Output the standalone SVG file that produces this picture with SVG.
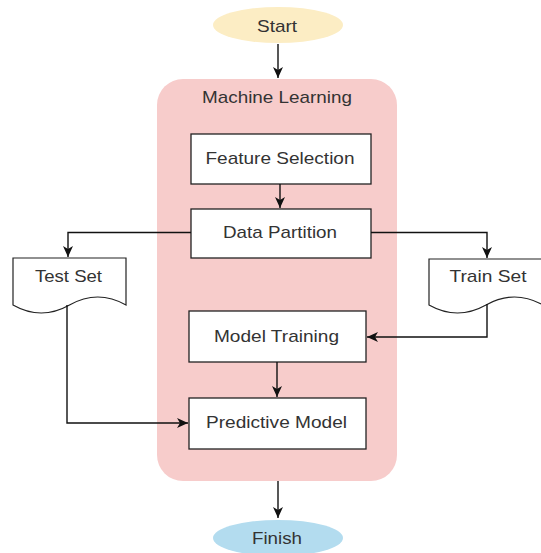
<svg xmlns="http://www.w3.org/2000/svg" width="541" height="553" viewBox="0 0 541 553">
  <style>
    .lbl { font-family: "Liberation Sans", Arial, sans-serif; font-size: 17px; fill: #333333; text-anchor: middle; }
    .box { fill: #ffffff; stroke: #222222; stroke-width: 1.3; }
    .doc { fill: #ffffff; stroke: #222222; stroke-width: 1.2; }
    .edge { fill: none; stroke: #111111; stroke-width: 1.4; }
  </style>
  <defs>
    <marker id="arrow" viewBox="0 0 12 10" refX="11" refY="5" markerWidth="12" markerHeight="10" markerUnits="userSpaceOnUse" orient="auto">
      <path d="M0,0 L11,5 L0,10 L3,5 Z" fill="#111111"/>
    </marker>
  </defs>

  <rect width="541" height="553" fill="#ffffff"/>

  <!-- container for the learning steps -->
  <g id="machine-learning">
    <rect x="157" y="79" width="240" height="402" rx="26" ry="26" fill="#f7cccb"/>
    <text class="lbl" x="277" y="103" textLength="150" lengthAdjust="spacingAndGlyphs">Machine Learning</text>
  </g>

  <g id="start">
    <ellipse cx="278" cy="25" rx="65" ry="18" fill="#fcedc4"/>
    <text class="lbl" x="277" y="32" textLength="40" lengthAdjust="spacingAndGlyphs">Start</text>
  </g>

  <g id="feature-selection">
    <rect class="box" x="191" y="134" width="180" height="50"/>
    <text class="lbl" x="280" y="164" textLength="149" lengthAdjust="spacingAndGlyphs">Feature Selection</text>
  </g>

  <g id="data-partition">
    <rect class="box" x="191" y="209" width="180" height="49"/>
    <text class="lbl" x="280" y="238" textLength="114" lengthAdjust="spacingAndGlyphs">Data Partition</text>
  </g>

  <g id="test-set">
    <path class="doc" d="M13,258 H126 V305 Q97.75,289 69.5,305 Q41.25,321 13,305 Z"/>
    <text class="lbl" x="68.5" y="282" textLength="67" lengthAdjust="spacingAndGlyphs">Test Set</text>
  </g>

  <g id="train-set">
    <path class="doc" d="M429,259 H543 V305 Q514.5,289 486,305 Q457.5,321 429,305 Z"/>
    <text class="lbl" x="488" y="282" textLength="77" lengthAdjust="spacingAndGlyphs">Train Set</text>
  </g>

  <g id="model-training">
    <rect class="box" x="189" y="311" width="177" height="51"/>
    <text class="lbl" x="276.5" y="342" textLength="125" lengthAdjust="spacingAndGlyphs">Model Training</text>
  </g>

  <g id="predictive-model">
    <rect class="box" x="189" y="398" width="177" height="51"/>
    <text class="lbl" x="276.5" y="428" textLength="141" lengthAdjust="spacingAndGlyphs">Predictive Model</text>
  </g>

  <g id="finish">
    <ellipse cx="278" cy="538" rx="65" ry="18" fill="#b3dcef"/>
    <text class="lbl" x="277" y="544" textLength="50" lengthAdjust="spacingAndGlyphs">Finish</text>
  </g>

  <!-- connectors -->
  <g id="connectors">
    <path class="edge" d="M278,44 V78" marker-end="url(#arrow)"/>
    <path class="edge" d="M280,184 V208" marker-end="url(#arrow)"/>
    <path class="edge" d="M191,232.5 H68 V257" marker-end="url(#arrow)"/>
    <path class="edge" d="M371,232.5 H487 V258" marker-end="url(#arrow)"/>
    <path class="edge" d="M487,304 V337 H367" marker-end="url(#arrow)"/>
    <path class="edge" d="M67,305 V423 H188" marker-end="url(#arrow)"/>
    <path class="edge" d="M277,362 V397" marker-end="url(#arrow)"/>
    <path class="edge" d="M278,481 V518" marker-end="url(#arrow)"/>
  </g>
</svg>
